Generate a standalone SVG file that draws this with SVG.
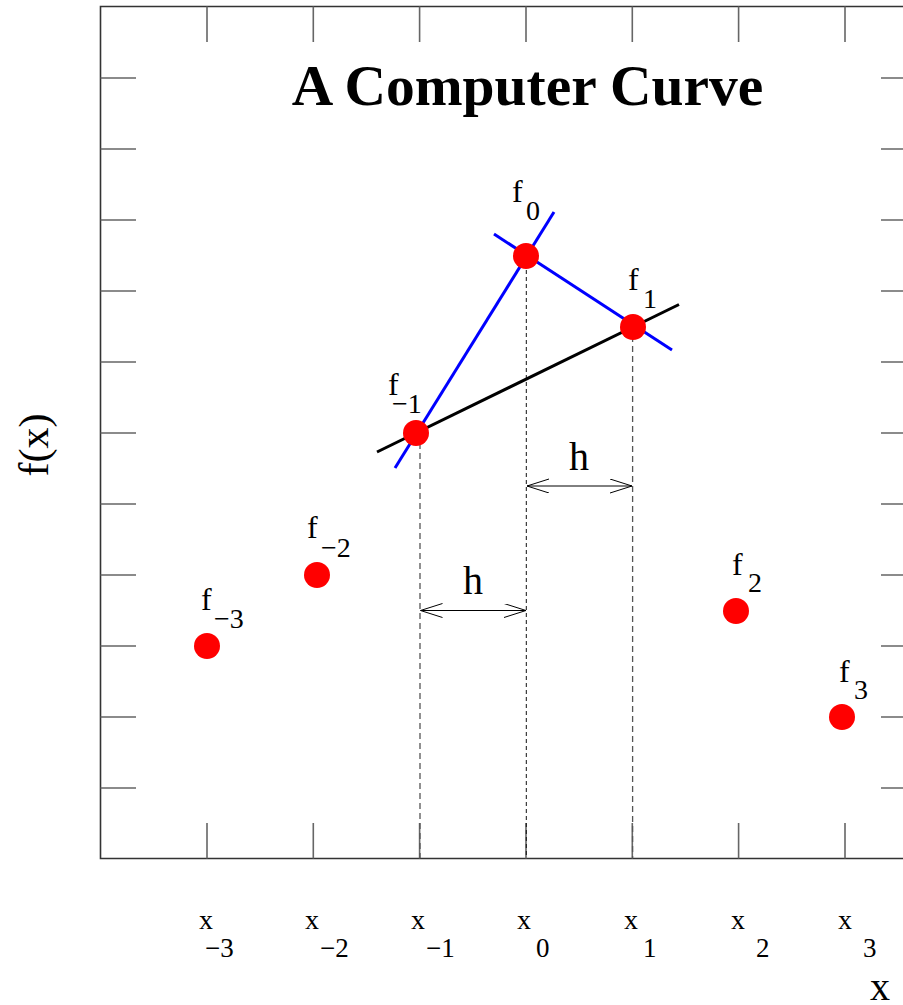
<svg xmlns="http://www.w3.org/2000/svg" width="903" height="1005" viewBox="0 0 903 1005">
<defs>
<style>
.frame{stroke:#333;stroke-width:1.6;fill:none}
.tick{stroke:#666;stroke-width:1.6}
.dash{stroke:#555;stroke-width:1.3;stroke-dasharray:6 4}
.dash0{stroke:#111;stroke-width:1;stroke-dasharray:4 3}
.blue{stroke:#0000ff;stroke-width:3;fill:none}
.blk{stroke:#000;stroke-width:3;fill:none}
.arr{stroke:#000;stroke-width:1;fill:none}
.pt{fill:#ff0000}
text{font-family:"Liberation Serif","Times New Roman",serif;fill:#000}
.f{font-size:32px}
.sub{font-size:28px}
.xl{font-size:28px}
.xs{font-size:27px}
.h{font-size:40px}
</style>
<marker id="ah" markerWidth="24" markerHeight="16" refX="22" refY="7" orient="auto-start-reverse" markerUnits="userSpaceOnUse">
<path d="M0,0 L22,7 L0,14" fill="none" stroke="#000" stroke-width="1"/>
</marker>
</defs>
<rect width="903" height="1005" fill="#fff"/>
<g id="axes">
<path class="frame" d="M903,6.5 H100.5 V858.5 H903"/>
<g class="tick">
<path d="M100.5,78H136M100.5,149H136M100.5,220H136M100.5,291H136M100.5,362H136M100.5,433H136M100.5,504H136M100.5,575H136M100.5,646H136M100.5,717H136M100.5,788H136"/>
<path d="M881,78H903M881,149H903M881,220H903M881,291H903M881,362H903M881,433H903M881,504H903M881,575H903M881,646H903M881,717H903M881,788H903"/>
<path d="M207,6.5V42M313.3,6.5V42M419.6,6.5V42M526,6.5V42M632.3,6.5V42M738.6,6.5V42M845,6.5V42"/>
<path d="M207,823V858.5M313.3,823V858.5M419.6,823V858.5M526,823V858.5M632.3,823V858.5M738.6,823V858.5M845,823V858.5"/>
</g>
</g>
<text id="title" x="527.5" y="105" font-size="57.5" font-weight="bold" text-anchor="middle">A Computer Curve</text>
<g id="connectors">
<line class="dash" x1="420" y1="433" x2="420" y2="858"/>
<line class="dash0" x1="526.3" y1="256" x2="526.3" y2="858"/>
<line class="dash" x1="632.6" y1="326" x2="632.6" y2="858"/>
<line class="blue" x1="395" y1="468" x2="554" y2="212"/>
<line class="blue" x1="494" y1="234" x2="672" y2="350"/>
<line class="blk" x1="377" y1="452" x2="679" y2="304.5"/>
<line class="arr" x1="527" y1="486" x2="632" y2="486" marker-start="url(#ah)" marker-end="url(#ah)"/>
<line class="arr" x1="420.5" y1="610.5" x2="526" y2="610.5" marker-start="url(#ah)" marker-end="url(#ah)"/>
</g>
<text class="h" x="579" y="470" text-anchor="middle">h</text>
<text class="h" x="473" y="594" text-anchor="middle">h</text>
<g id="p-3"><circle class="pt" cx="207" cy="646" r="13"/><text class="f" x="201" y="610">f</text><text class="sub" x="214" y="628">−3</text></g>
<g id="p-2"><circle class="pt" cx="317" cy="575" r="13"/><text class="f" x="307" y="538">f</text><text class="sub" x="321" y="557">−2</text></g>
<g id="p-1"><circle class="pt" cx="416" cy="433" r="13"/><text class="f" x="388" y="395">f</text><text class="sub" x="392" y="413">−1</text></g>
<g id="p0"><circle class="pt" cx="526" cy="256" r="13"/><text class="f" x="512" y="202">f</text><text class="sub" x="526" y="220">0</text></g>
<g id="p1"><circle class="pt" cx="633" cy="327" r="13"/><text class="f" x="628" y="290">f</text><text class="sub" x="643" y="308">1</text></g>
<g id="p2"><circle class="pt" cx="736" cy="611" r="13"/><text class="f" x="732" y="575">f</text><text class="sub" x="748" y="592">2</text></g>
<g id="p3"><circle class="pt" cx="842" cy="717" r="13"/><text class="f" x="839" y="682">f</text><text class="sub" x="854" y="699">3</text></g>
<g id="xlabels">
<text class="xl" x="199" y="929">x</text><text class="xs" x="205" y="957">−3</text>
<text class="xl" x="305" y="929">x</text><text class="xs" x="320" y="957">−2</text>
<text class="xl" x="411" y="929">x</text><text class="xs" x="426" y="957">−1</text>
<text class="xl" x="517" y="929">x</text><text class="xs" x="536" y="957">0</text>
<text class="xl" x="624" y="929">x</text><text class="xs" x="643" y="957">1</text>
<text class="xl" x="731" y="929">x</text><text class="xs" x="756" y="957">2</text>
<text class="xl" x="838" y="929">x</text><text class="xs" x="863" y="957">3</text>
</g>
<text x="870" y="1000" font-size="40">x</text>
<text transform="translate(48,445) rotate(-90)" font-size="42" text-anchor="middle">f(x)</text>
</svg>
